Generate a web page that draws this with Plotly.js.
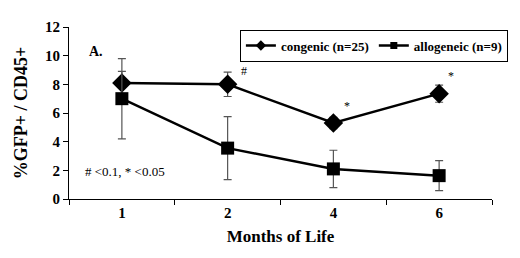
<!DOCTYPE html>
<html><head><meta charset="utf-8">
<script src="https://cdn.plot.ly/plotly-3.0.1.min.js"></script>
<style>html,body{margin:0;padding:0;background:#fff}</style>
</head><body><div id="c" style="width:520px;height:258px"></div>
<script>
const months = ["1","2","4","6"];
const congenic = [8.1, 8.0, 5.3, 7.35];
const congenicErr = [0.8, 0.85, 0.4, 0.6];
const allogeneic = [7.0, 3.55, 2.1, 1.63];
const allogeneicErr = [2.8, 2.2, 1.3, 1.05];
const sigMarks = [{x:"2", y:8.9, t:"#", dx:16}, {x:"4", y:6.5, t:"*", dx:14}, {x:"6", y:8.6, t:"*", dx:12}];

const font = '"Liberation Serif", "Times New Roman", Times, serif';
const traces = [
  {x: months, y: congenic, name: "congenic (n=25)", type: "scatter", mode: "lines+markers", showlegend: false,
   line: {color: "#000", width: 2.5}, marker: {symbol: "diamond", size: 15, color: "#000"},
   error_y: {type: "data", array: congenicErr, visible: true, color: "#555", thickness: 1.2, width: 4}},
  {x: months, y: allogeneic, name: "allogeneic (n=9)", type: "scatter", mode: "lines+markers", showlegend: false,
   line: {color: "#000", width: 2.5}, marker: {symbol: "square", size: 13, color: "#000"},
   error_y: {type: "data", array: allogeneicErr, visible: true, color: "#555", thickness: 1.2, width: 4}},
  {x: [null], y: [null], name: "<b>congenic (n=25)</b>", type: "scatter", mode: "lines+markers",
   line: {color: "#000", width: 2.5}, marker: {symbol: "diamond", size: 8, color: "#000"}},
  {x: [null], y: [null], name: "<b>allogeneic (n=9)</b>", type: "scatter", mode: "lines+markers",
   line: {color: "#000", width: 2.5}, marker: {symbol: "square", size: 7, color: "#000"}}
];
const ann = sigMarks.map(s => ({x: months.indexOf(s.x), y: s.y, text: s.t, xshift: s.dx, showarrow: false,
  font: {family: font, size: 12, color: "#000"}}));
ann.push({xref: "paper", yref: "paper", x: 0.043, y: 0.915, xanchor: "left", text: "<b>A.</b>", showarrow: false,
  font: {family: font, size: 14, color: "#000"}});
ann.push({xref: "paper", yref: "paper", x: 0.033, y: 0.105, xanchor: "left", text: "# <0.1, * <0.05", showarrow: false,
  font: {family: font, size: 13, color: "#000"}});
const layout = {
  width: 520, height: 258,
  margin: {l: 69, r: 13, t: 27, b: 59},
  paper_bgcolor: "#fff", plot_bgcolor: "#fff",
  font: {family: font, color: "#000"},
  showlegend: true,
  legend: {orientation: "h", x: 0.404, y: 0.985, xanchor: "left", yanchor: "top",
    bgcolor: "#fff", bordercolor: "#000", borderwidth: 1,
    font: {family: font, size: 13}, itemwidth: 30, tracegroupgap: 0},
  xaxis: {type: "category", range: [-0.5, 3.5], automargin: false, showline: true, linecolor: "#000", linewidth: 1, ticks: "outside",
    tickson: "boundaries", ticklen: 5, tickcolor: "#000", showgrid: false, zeroline: false,
    tickvals: months, ticktext: months.map(m => "<b>" + m + "</b>"),
    tickfont: {family: font, size: 15},
    title: {text: "<b>Months of Life</b>", font: {family: font, size: 17}, standoff: 10}},
  yaxis: {range: [0, 12], dtick: 2, automargin: false, showline: true, linecolor: "#000", linewidth: 1, ticks: "outside",
    ticklen: 5, tickcolor: "#000", showgrid: false, zeroline: false,
    tickfont: {family: font, size: 15, weight: "bold"},
    title: {text: "<b>%GFP+ / CD45+</b>", font: {family: font, size: 18}, standoff: 12}},
  annotations: ann
};
Plotly.newPlot("c", traces, layout, {displayModeBar: false, staticPlot: true});
</script></body></html>
